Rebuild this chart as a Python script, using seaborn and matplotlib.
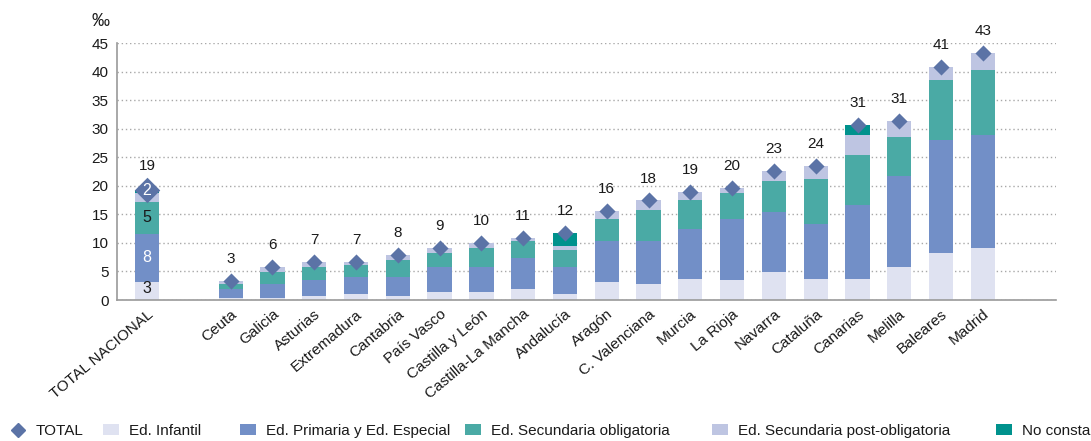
import numpy as np
import pandas as pd
import matplotlib
matplotlib.use("Agg")
import matplotlib.pyplot as plt
import seaborn as sns
from matplotlib.lines import Line2D
from matplotlib.patches import Patch

# ---------------- data ----------------
categories = ["TOTAL NACIONAL", "Ceuta", "Galicia", "Asturias", "Extremadura", "Cantabria",
              "País Vasco", "Castilla y León", "Castilla-La Mancha", "Andalucía", "Aragón",
              "C. Valenciana", "Murcia", "La Rioja", "Navarra", "Cataluña", "Canarias",
              "Melilla", "Baleares", "Madrid"]
infantil = [3.16, 0.40, 0.30, 0.76, 1.11, 0.76, 1.40, 1.40, 1.99, 1.11, 3.16, 2.81, 3.68,
            3.51, 4.91, 3.68, 3.68, 5.79, 8.25, 9.12]
primaria = [8.47, 1.58, 2.56, 2.81, 2.93, 3.28, 4.39, 4.39, 5.44, 4.68, 7.19, 7.54, 8.78,
            10.69, 10.53, 9.65, 12.99, 15.96, 19.82, 19.83]
sec_oblig = [5.62, 0.88, 2.11, 2.22, 2.10, 2.98, 2.46, 3.33, 2.92, 2.98, 3.85, 5.45, 5.08,
             4.57, 5.44, 7.90, 8.73, 6.85, 10.53, 11.40]
sec_post = [1.58, 0.53, 0.88, 0.88, 0.53, 0.88, 0.87, 0.88, 0.53, 0.70, 1.40, 1.70, 1.41,
            0.88, 1.75, 2.27, 3.50, 2.85, 2.28, 2.98]
no_consta = [0.47, 0, 0, 0, 0, 0, 0, 0, 0, 2.28, 0, 0, 0, 0, 0, 0, 1.80, 0, 0, 0]
total_labels = [19, 3, 6, 7, 7, 8, 9, 10, 11, 12, 16, 18, 19, 20, 23, 24, 31, 31, 41, 43]
national_segment_labels = ["3", "8", "5", "2"]

series_names = ["Ed. Infantil", "Ed. Primaria y Ed. Especial", "Ed. Secundaria obligatoria",
                "Ed. Secundaria post-obligatoria", "No consta"]
colors = ["#dfe2f1", "#728fc7", "#4aaaa5", "#bec5e2", "#00928d"]
diamond_color = "#5b73a6"
text_color = "#1a1a1a"

# ---------------- frame ----------------
df = pd.DataFrame({"cat": categories, "inf": infantil, "pri": primaria,
                   "sec": sec_oblig, "post": sec_post, "nc": no_consta})
cols = ["inf", "pri", "sec", "post", "nc"]
cum = df[cols].cumsum(axis=1)
for c in cols:
    df["cum_" + c] = cum[c]
df["total"] = df["cum_nc"]

order = [categories[0], ""] + categories[1:]

sns.set_theme(style="white")
plt.rcParams["font.family"] = ["Liberation Sans", "DejaVu Sans"]

W, H = 1091, 441
fig = plt.figure(figsize=(W / 100, H / 100), dpi=100)
ax = fig.add_axes([117 / W, (H - 300) / H, (1056 - 117) / W, (300 - 43.3) / H])

# stacked bars: draw cumulative heights from top layer down
for c, col in reversed(list(zip(cols, colors))):
    sns.barplot(data=df, x="cat", y="cum_" + c, order=order, color=col, saturation=1,
                width=0.58, errorbar=None, linewidth=0, ax=ax, zorder=2)

# total diamonds
nat = df[df["cat"] == categories[0]]
reg = df[df["cat"] != categories[0]]
sns.stripplot(data=nat, x="cat", y="total", order=order, jitter=False, marker="D",
              size=13, color=diamond_color, linewidth=0, ax=ax, zorder=5)
sns.stripplot(data=reg, x="cat", y="total", order=order, jitter=False, marker="D",
              size=8.2, color=diamond_color, linewidth=0, ax=ax, zorder=5)

# total labels above diamonds
for cat, tot, lab in zip(df["cat"], df["total"], total_labels):
    i = order.index(cat)
    off = 17.5 if cat == categories[0] else 15.5
    ax.annotate(str(lab), (i, tot), xytext=(0, off), textcoords="offset points",
                ha="center", va="center", fontsize=11, color=text_color, zorder=6)

# labels inside the national bar
r0 = df.iloc[0]
seg_centers = [r0["cum_inf"] / 2 + 0.4,
               (r0["cum_inf"] + r0["cum_pri"]) / 2,
               (r0["cum_pri"] + r0["cum_sec"]) / 2,
               r0["total"] - 0.15]
seg_cols = [text_color, "white", text_color, "white"]
for lab, y, c in zip(national_segment_labels, seg_centers, seg_cols):
    ax.text(0, y, lab, ha="center", va="center", fontsize=11.5, color=c, zorder=7)

# axes styling
ax.set_ylim(0, 45)
ax.set_xlim(-0.72, 21.75)
ax.set_yticks(np.arange(0, 46, 5))
ax.set_xticks(range(len(order)))
ax.set_xticklabels(order, rotation=40, ha="right", rotation_mode="anchor")
ax.set_xlabel("")
ax.set_ylabel("")
ax.yaxis.grid(True, linestyle=(0, (1, 2)), color="#a8a8a8", linewidth=1.0)
ax.xaxis.grid(False)
ax.set_axisbelow(True)
for s in ["top", "right"]:
    ax.spines[s].set_visible(False)
for s in ["left", "bottom"]:
    ax.spines[s].set_color("#9a9a9a")
    ax.spines[s].set_linewidth(1.2)
ax.tick_params(axis="y", length=0, pad=6, labelsize=11, labelcolor=text_color)
ax.tick_params(axis="x", length=0, pad=5, labelsize=11, labelcolor=text_color)

fig.text(100 / W, 1 - 22 / H, "‰", ha="center", va="center", fontsize=13, color=text_color)

# legend
leg_y = 1 - 431 / H
handles = [Line2D([], [], marker="D", linestyle="none", markersize=7.5, color=diamond_color)]
handles += [Patch(facecolor=c, edgecolor="none") for c in colors]
labels = ["TOTAL"] + series_names
xs = [10, 103, 240, 465, 712, 996]
for h, lab, xpx in zip(handles, labels, xs):
    fig.legend(handles=[h], labels=[lab], loc="center left",
               bbox_to_anchor=(xpx / W, leg_y), frameon=False, fontsize=11,
               handlelength=1.05, handleheight=0.72, handletextpad=0.62,
               borderpad=0, borderaxespad=0, labelcolor=text_color)

fig.savefig("out.png", dpi=100)
